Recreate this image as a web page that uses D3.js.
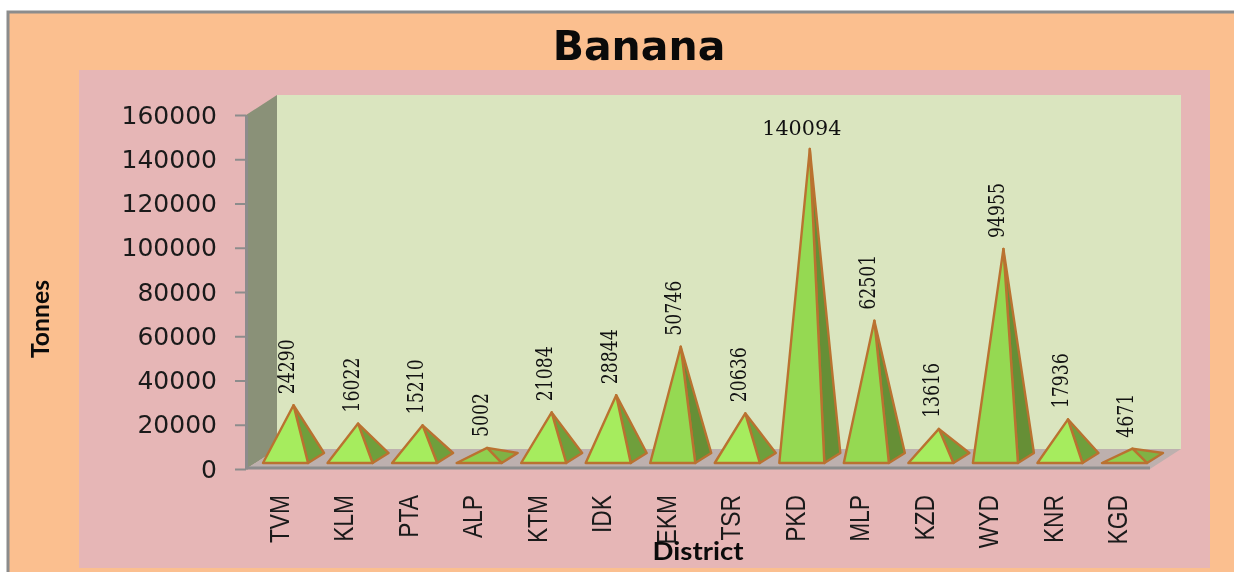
<!DOCTYPE html>
<html>
<head>
<meta charset="utf-8">
<script src="https://cdn.jsdelivr.net/npm/d3@7"></script>
<style>
	html, body { margin: 0; padding: 0; background: #fff; overflow: hidden; }
	svg { display: block; filter: blur(0.5px); }
</style>
</head>
<body>
<script>
const districts = ["TVM", "KLM", "PTA", "ALP", "KTM", "IDK", "EKM", "TSR", "PKD", "MLP", "KZD", "WYD", "KNR", "KGD"];
const tonnes = [24290, 16022, 15210, 5002, 21084, 28844, 50746, 20636, 140094, 62501, 13616, 94955, 17936, 4671];
const yTicks = [0, 20000, 40000, 60000, 80000, 100000, 120000, 140000, 160000];

const width = 1234, height = 572;
const depth = { x: 31, y: -20 };    // wall depth of the fake 3d box
const pyr = { x: 16, y: -10, lift: 6 };

const x = d3.scaleBand()
	.domain(districts)
	.range([263, 1147])
	.paddingInner(0.302)
	.paddingOuter(0);

const y = d3.scaleLinear()
	.domain([0, 160000])
	.range([469, 115]);

// short pyramids are lighter, the flat ones duller
const frontColour = d3.scaleThreshold().domain([6000, 30000]).range(["#8fd04f", "#a6ec5e", "#95d952"]);
const sideColour = d3.scaleThreshold().domain([6000, 30000]).range(["#7fb245", "#6f9f3c", "#668f36"]);

const svg = d3.select("body").append("svg")
	.attr("width", width)
	.attr("height", height);

svg.append("rect")
	.attr("x", 8).attr("y", 12)
	.attr("width", width - 8).attr("height", height - 12)
	.attr("fill", "#fbbf8f");

svg.append("path")
	.attr("d", `M8,${height}V12H${width}`)
	.attr("fill", "none")
	.attr("stroke", "#8c8c8c")
	.attr("stroke-width", 3);

svg.append("rect")
	.attr("x", 79).attr("y", 70)
	.attr("width", 1131).attr("height", 498)
	.attr("fill", "#e6b6b6");

svg.append("text")
	.attr("x", 639)
	.attr("y", 60)
	.attr("text-anchor", "middle")
	.attr("font-family", "DejaVu Sans")
	.attr("font-weight", "bold")
	.attr("font-size", 41)
	.attr("fill", "#0a0a0a")
	.text("Banana");

// walls and floor
const x0 = 246, x1 = 1150;
const yBottom = y(0), yTop = y(160000);

svg.append("rect")
	.attr("x", x0 + depth.x).attr("y", yTop + depth.y)
	.attr("width", x1 - x0).attr("height", yBottom - yTop)
	.attr("fill", "#dae5bf");

svg.append("polygon")
	.attr("points", [[x0, yTop], [x0 + depth.x, yTop + depth.y], [x0 + depth.x, yBottom + depth.y], [x0, yBottom]].join(" "))
	.attr("fill", "#8a9178");

svg.append("polygon")
	.attr("points", [[x0, yBottom], [x0 + depth.x, yBottom + depth.y], [x1 + depth.x, yBottom + depth.y], [x1, yBottom]].join(" "))
	.attr("fill", "#bdb0ae");

svg.append("line")
	.attr("x1", x0).attr("x2", x1)
	.attr("y1", yBottom - 1).attr("y2", yBottom - 1)
	.attr("stroke", "#8c8c8c")
	.attr("stroke-width", 3);

const yAxis = svg.append("g")
	.attr("transform", `translate(${x0},0)`)
	.call(d3.axisLeft(y).tickValues(yTicks).tickFormat(d3.format("d")).tickSize(11).tickPadding(18).tickSizeOuter(0));

yAxis.select(".domain")
	.attr("stroke", "#8c8c8c")
	.attr("stroke-width", 3);

yAxis.selectAll(".tick line")
	.attr("stroke", "#8c8c8c")
	.attr("stroke-width", 2);

yAxis.selectAll(".tick text")
	.attr("font-family", "DejaVu Sans")
	.attr("font-size", 25)
	.attr("fill", "#1a1a1a");

// pyramids
const base = yBottom - pyr.lift;
const apex = (d, i) => [x(districts[i]) + x.bandwidth() / 2 + pyr.x / 2, y(d) + pyr.y];

const g = svg.append("g")
	.selectAll("g")
	.data(tonnes)
	.enter()
	.append("g");

g.append("polygon")
	.attr("points", (d, i) => {
		const right = x(districts[i]) + x.bandwidth();
		return [[right, base], [right + pyr.x, base + pyr.y], apex(d, i)].join(" ");
	})
	.attr("fill", d => sideColour(d))
	.attr("stroke", "#ba7230")
	.attr("stroke-width", 2.4)
	.attr("stroke-linejoin", "round");

g.append("polygon")
	.attr("points", (d, i) => {
		const left = x(districts[i]);
		return [[left, base], [left + x.bandwidth(), base], apex(d, i)].join(" ");
	})
	.attr("fill", d => frontColour(d))
	.attr("stroke", "#ba7230")
	.attr("stroke-width", 2.4)
	.attr("stroke-linejoin", "round");

// value labels, only the tallest one stays horizontal
g.append("text")
	.attr("transform", (d, i) => {
		const [ax, ay] = apex(d, i);
		return d > 100000 ? `translate(${ax - 8},${ay - 14})` : `translate(${ax + 0.5},${ay - 11}) rotate(-90)`;
	})
	.attr("text-anchor", d => d > 100000 ? "middle" : "start")
	.attr("font-family", "DejaVu Serif")
	.attr("font-size", d => d > 100000 ? 20 : 23)
	.attr("textLength", d => String(d).length * (d > 100000 ? 13.2 : 11))
	.attr("lengthAdjust", "spacingAndGlyphs")
	.attr("fill", "#111")
	.text(d => d);

// district labels
svg.append("g")
	.selectAll("text")
	.data(districts)
	.enter()
	.append("text")
	.attr("transform", d => `translate(${x(d) + x.bandwidth() / 2 + 3},495) rotate(-90) scale(0.8,1)`)
	.attr("text-anchor", "end")
	.attr("font-family", "Liberation Sans")
	.attr("font-size", 28.5)
	.attr("fill", "#1a1a1a")
	.text(d => d);

svg.append("text")
	.attr("transform", "translate(49,319) rotate(-90)")
	.attr("text-anchor", "middle")
	.attr("font-family", "Lato")
	.attr("font-weight", "bold")
	.attr("font-size", 25)
	.attr("textLength", 78)
	.attr("lengthAdjust", "spacingAndGlyphs")
	.attr("fill", "#0a0a0a")
	.text("Tonnes");

svg.append("text")
	.attr("x", 698)
	.attr("y", 560)
	.attr("text-anchor", "middle")
	.attr("font-family", "Lato")
	.attr("font-weight", "bold")
	.attr("font-size", 24)
	.attr("textLength", 91)
	.attr("lengthAdjust", "spacingAndGlyphs")
	.attr("fill", "#0a0a0a")
	.text("District");
</script>
</body>
</html>
